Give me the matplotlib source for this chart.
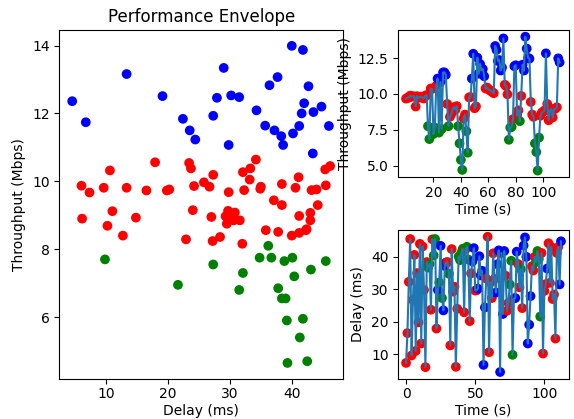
import numpy as np
import matplotlib
matplotlib.use("Agg")
import matplotlib.pyplot as plt

# Per-second link samples, t = 0 .. 112 s
throughput = [
    9.67, 9.73, 9.74, 9.88, 9.81, 9.84, 9.81, 9.12, 9.84, 9.73,
    9.76, 9.81, 9.74, 9.68, 9.87, 9.92, 7.75, 6.85, 10.38, 10.35,
    7.20, 7.65, 10.56, 11.07, 7.30, 10.82, 7.55, 11.50, 11.50, 11.33,
    9.30, 7.75, 8.40, 8.59, 8.97, 9.08, 8.90, 9.15, 7.75, 6.55,
    5.40, 4.70, 8.29, 8.56, 7.40, 5.90, 9.76, 9.78, 11.07, 12.80,
    9.00, 9.13, 12.53, 11.41, 12.09, 11.64, 11.74, 11.23, 10.38, 10.45,
    10.32, 10.27, 10.19, 10.12, 10.05, 13.34, 13.07, 12.30, 12.36, 11.63,
    11.84, 13.87, 10.64, 10.54, 9.97, 6.80, 7.65, 7.70, 8.24, 11.93,
    12.00, 8.51, 8.85, 8.10, 9.86, 12.04, 11.63, 13.99, 13.16, 12.51,
    12.46, 9.44, 8.56, 8.40, 6.55, 5.95, 4.65, 6.95, 8.48, 8.69,
    8.75, 8.85, 12.83, 9.30, 8.16, 8.85, 8.95, 8.36, 8.93, 8.98,
    9.07, 12.48, 12.20,
]
delay = [
    7.3, 16.5, 32.3, 45.5, 9.6, 26.7, 40.6, 11.0, 35.0, 19.8,
    44.0, 13.3, 43.2, 29.8, 6.0, 38.4, 36.7, 37.8, 23.7, 45.4,
    40.4, 45.5, 17.9, 29.8, 32.1, 43.4, 27.3, 23.5, 37.2, 38.3,
    38.4, 34.8, 12.7, 42.4, 29.3, 30.8, 6.1, 24.0, 40.1, 39.0,
    41.3, 42.5, 22.9, 42.3, 43.1, 39.2, 20.2, 34.9, 38.6, 42.7,
    29.6, 29.7, 30.2, 40.2, 34.3, 35.7, 6.7, 24.4, 33.3, 46.2,
    10.6, 32.1, 27.3, 41.1, 33.2, 29.0, 37.7, 42.0, 4.5, 41.2,
    22.4, 41.8, 34.2, 23.4, 25.8, 31.5, 38.8, 9.8, 27.2, 27.3,
    41.6, 37.8, 30.6, 36.2, 24.2, 43.5, 46.0, 40.0, 13.3, 19.1,
    27.9, 37.1, 35.8, 40.0, 38.4, 41.8, 39.3, 21.6, 41.2, 10.2,
    29.5, 31.6, 36.4, 44.2, 32.0, 43.0, 27.0, 28.4, 14.8, 41.2,
    43.0, 31.5, 44.8,
]
time_s = np.arange(len(throughput))

tp = np.array(throughput)
dl = np.array(delay)

# classify samples: low / nominal / high throughput
colors = np.where(tp > 10.7, "blue", np.where(tp < 8.15, "green", "red"))

plt.rcParams["xtick.major.pad"] = 2.5

fig = plt.figure(figsize=(5.74, 4.19), dpi=100)
ax_env = fig.add_axes([0.1033, 0.0960, 0.4943, 0.8324])
ax_tp = fig.add_axes([0.6939, 0.5768, 0.2969, 0.3516])
ax_dl = fig.add_axes([0.6939, 0.0960, 0.2969, 0.3551])

# delay vs throughput envelope
ax_env.scatter(dl, tp, c=colors)
ax_env.set_title("Performance Envelope")
ax_env.set_xlabel("Delay (ms)", labelpad=2)
ax_env.set_ylabel("Throughput (Mbps)")

# throughput over time
ax_tp.scatter(time_s, tp, c=colors)
ax_tp.plot(time_s, tp)
ax_tp.set_xticks([20, 40, 60, 80, 100])
ax_tp.set_xlim(-5.65, 118.65)
ax_tp.set_xlabel("Time (s)", labelpad=2)
ax_tp.set_ylabel("Throughput (Mbps)")

# delay over time
ax_dl.scatter(time_s, dl, c=colors)
ax_dl.plot(time_s, dl)
ax_dl.set_xlabel("Time (s)", labelpad=2)
ax_dl.set_ylabel("Delay (ms)")

fig.savefig("out.png", dpi=100)
